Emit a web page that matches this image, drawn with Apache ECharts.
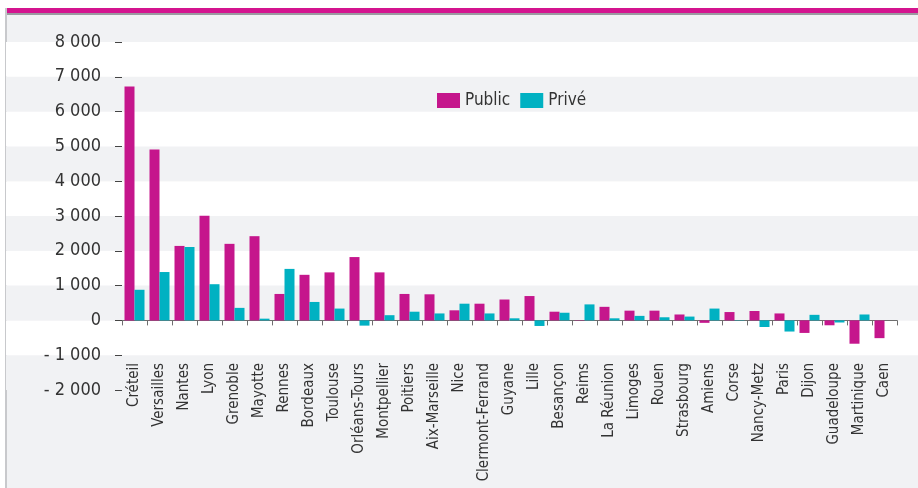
<!DOCTYPE html>
<html>
<head>
<meta charset="utf-8">
<script src="https://cdn.jsdelivr.net/npm/echarts@6/dist/echarts.min.js"></script>
<style>
  html, body { margin: 0; padding: 0; background: #ffffff; }
  #wrap { position: relative; width: 918px; height: 488px; overflow: hidden; background: #ffffff; }
  #bg { position: absolute; left: 6px; top: 14px; right: 0; bottom: 0; background: #f1f2f4; }
  #topline { position: absolute; left: 6px; right: 0; top: 8px; height: 5px; background: #d4148f; }
  #topline2 { position: absolute; left: 6px; right: 0; top: 13px; height: 1.5px; background: #9a9aa0; }
  #leftline { position: absolute; left: 5px; top: 8px; bottom: 0; width: 1.5px; background: #c8c9cc; }
  #chart { position: absolute; left: 0; top: 0; width: 918px; height: 488px; }
</style>
</head>
<body>
<div id="wrap">
  <div id="bg"></div>
  <div id="topline"></div>
  <div id="topline2"></div>
  <div id="leftline"></div>
  <div id="chart"></div>
</div>
<script>
const categories = ['Créteil','Versailles','Nantes','Lyon','Grenoble','Mayotte','Rennes','Bordeaux','Toulouse','Orléans-Tours','Montpellier','Poitiers','Aix-Marseille','Nice','Clermont-Ferrand','Guyane','Lille','Besançon','Reims','La Réunion','Limoges','Rouen','Strasbourg','Amiens','Corse','Nancy-Metz','Paris','Dijon','Guadeloupe','Martinique','Caen'];
const publicValues = [6720, 4910, 2140, 3010, 2200, 2420, 760, 1310, 1380, 1820, 1380, 760, 750, 290, 480, 600, 700, 250, -10, 390, 280, 280, 170, -70, 240, 270, 200, -360, -140, -670, -510];
const priveValues  = [880, 1390, 2110, 1040, 360, 50, 1480, 530, 340, -150, 150, 250, 200, 480, 200, 60, -160, 220, 460, 60, 130, 90, 110, 340, 10, -190, -320, 160, -60, 170, 0];
const seriesNames = ['Public', 'Privé'];
const yTicks = { min: -2000, max: 8000, interval: 1000 };

const FONT = "'Liberation Sans Narrow', 'DejaVu Sans Condensed', 'Roboto', sans-serif";
function fmt(v) {
  const s = Math.abs(v).toString().replace(/\B(?=(\d{3})+(?!\d))/g, ' ');
  return (v < 0 ? '- ' : '') + s;
}

const chart = echarts.init(document.getElementById('chart'), null, { renderer: 'canvas' });
chart.setOption({
  backgroundColor: 'transparent',
  animation: false,
  textStyle: { fontFamily: FONT },
  legend: {
    data: seriesNames,
    left: 432, top: 87,
    icon: 'rect', itemWidth: 23, itemHeight: 15, itemGap: 10,
    textStyle: { fontFamily: FONT, fontSize: 17, color: '#333333' }
  },
  grid: [
    { left: 6, right: 0, top: 42, bottom: 98, containLabel: false, outerBoundsMode: 'none' },
    { left: 122, right: 21, top: 42, bottom: 98, containLabel: false, outerBoundsMode: 'none' }
  ],
  xAxis: [
    { gridIndex: 0, type: 'value', show: false, min: 0, max: 1 },
    {
      gridIndex: 1, type: 'category', data: categories,
      axisLine: { show: true, onZero: true, lineStyle: { color: '#6e6e6e', width: 1 } },
      axisTick: { show: true, length: 5, interval: 0, lineStyle: { color: '#6e6e6e' } },
      axisLabel: { interval: 0, rotate: 90, margin: -27, fontSize: 15, color: '#333333', fontFamily: FONT },
      splitLine: { show: false }
    }
  ],
  yAxis: [
    {
      gridIndex: 0, type: 'value', min: yTicks.min, max: yTicks.max, interval: yTicks.interval,
      axisLine: { show: false }, axisTick: { show: false }, axisLabel: { show: false },
      splitLine: { show: false },
      splitArea: { show: true, areaStyle: { color: ['#f1f2f4', '#ffffff'] } }
    },
    {
      gridIndex: 1, type: 'value', min: yTicks.min, max: yTicks.max, interval: yTicks.interval,
      axisLine: { show: false },
      axisTick: { show: true, length: 7, lineStyle: { color: '#444444' } },
      axisLabel: { margin: 21, fontSize: 18, color: '#333333', fontFamily: FONT, formatter: fmt },
      splitLine: { show: false }, splitArea: { show: false }
    }
  ],
  series: [
    {
      name: seriesNames[0], type: 'bar', xAxisIndex: 1, yAxisIndex: 1,
      data: publicValues, barWidth: 10, barGap: '0%',
      itemStyle: { color: '#c5168c' }
    },
    {
      name: seriesNames[1], type: 'bar', xAxisIndex: 1, yAxisIndex: 1,
      data: priveValues, barWidth: 10, barGap: '0%',
      itemStyle: { color: '#00b1c2' }
    }
  ]
});
</script>
</body>
</html>
